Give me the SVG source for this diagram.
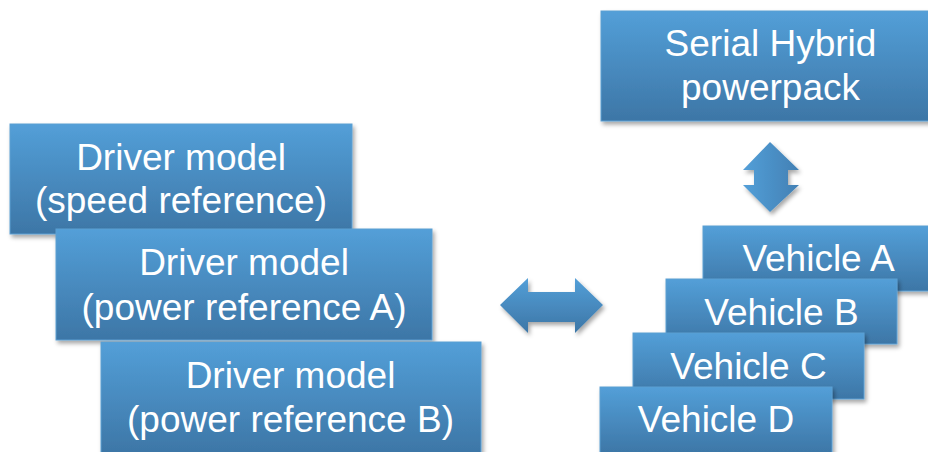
<svg xmlns="http://www.w3.org/2000/svg" width="928" height="452" viewBox="0 0 928 452">
<defs>
<linearGradient id="g" x1="0" y1="0" x2="0" y2="1">
<stop offset="0" stop-color="#539fd8"/>
<stop offset="1" stop-color="#3d76a6"/>
</linearGradient>
<linearGradient id="gh" x1="0" y1="0" x2="1" y2="0">
<stop offset="0" stop-color="#539fd8"/>
<stop offset="1" stop-color="#4280b4"/>
</linearGradient>
<filter id="sh" x="-10%" y="-10%" width="130%" height="140%">
<feDropShadow dx="2" dy="3" stdDeviation="2" flood-color="#000" flood-opacity="0.35"/>
</filter>
</defs>
<style>
.box{fill:url(#g);stroke:#5c9fd2;stroke-width:1;filter:url(#sh)}
.arrow{fill:url(#g);filter:url(#sh)}
.varrow{fill:url(#gh);filter:url(#sh)}
text{font-family:"Liberation Sans",Arial,sans-serif;font-size:37px;fill:#ffffff;text-anchor:middle}
</style>
<rect width="928" height="452" fill="#ffffff"/>
<g id="driver-speed">
<rect class="box" x="10" y="124" width="342" height="110"/>
<text x="181" y="170">Driver model</text>
<text x="181" y="213">(speed reference)</text>
</g>
<g id="driver-powerA">
<rect class="box" x="56" y="229" width="376" height="111"/>
<text x="244" y="275">Driver model</text>
<text x="244" y="320">(power reference A)</text>
</g>
<g id="driver-powerB">
<rect class="box" x="101" y="342" width="380" height="112"/>
<text x="290.5" y="388">Driver model</text>
<text x="290.5" y="432">(power reference B)</text>
</g>
<g id="powerpack">
<rect class="box" x="601" y="11" width="340" height="110"/>
<text x="770.5" y="56">Serial Hybrid</text>
<text x="770.5" y="100">powerpack</text>
</g>
<g id="vehicleA">
<rect class="box" x="703" y="226" width="232" height="65"/>
<text x="818.5" y="271">Vehicle A</text>
</g>
<g id="vehicleB">
<rect class="box" x="666" y="279" width="231" height="65"/>
<text x="781.5" y="325">Vehicle B</text>
</g>
<g id="vehicleC">
<rect class="box" x="633" y="333" width="231" height="66"/>
<text x="748.5" y="379">Vehicle C</text>
</g>
<g id="vehicleD">
<rect class="box" x="600" y="387" width="232" height="67"/>
<text x="716" y="432">Vehicle D</text>
</g>
<g id="connectors">
<polygon class="arrow" points="500,305 528,278 528,292 575,292 575,278 603,305 575,333 575,322 528,322 528,333"/>
<polygon class="varrow" points="770,142 799,170 788,170 788,185 799,185 770,212 743,185 754,185 754,170 743,170"/>
</g>
</svg>
